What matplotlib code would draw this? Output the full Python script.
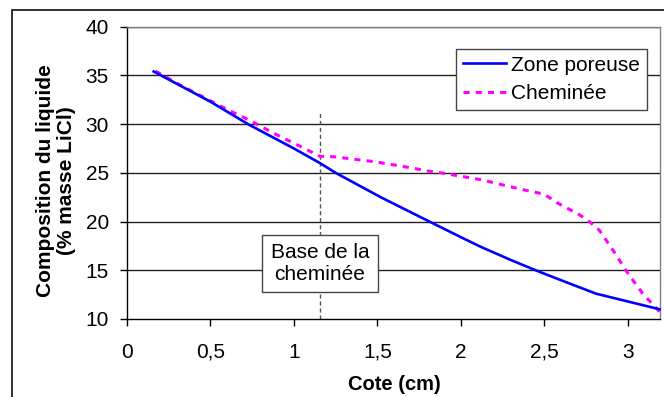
import matplotlib
matplotlib.use("Agg")
import matplotlib.pyplot as plt
from matplotlib.patches import Rectangle

plt.rcParams['font.family'] = ['Liberation Sans', 'DejaVu Sans']

# Data
x_poreuse = [0.16, 0.5, 0.73, 1.0, 1.156, 1.25, 1.52, 1.80, 2.0, 2.12, 2.3, 2.47, 2.65, 2.81, 3.0, 3.19]
y_poreuse = [35.4, 32.3, 29.95, 27.5, 26.0, 25.0, 22.5, 20.1, 18.4, 17.4, 16.05, 14.85, 13.65, 12.6, 11.8, 11.0]

x_chem = [0.17, 0.32, 0.46, 0.60, 0.74, 0.88, 1.04, 1.156, 1.24, 1.48, 1.64, 1.80, 1.88,
          2.12, 2.34, 2.50, 2.58, 2.71, 2.77, 2.83, 2.91, 3.00, 3.09, 3.19]
y_chem = [35.45, 34.0, 32.75, 31.5, 30.35, 29.05, 27.7, 26.7, 26.65, 26.15, 25.7, 25.2, 25.0,
          24.3, 23.4, 22.8, 21.9, 20.7, 20.0, 19.1, 17.1, 14.7, 12.6, 10.75]

base_x = 1.156
base_top = 31.25

xticks = [0, 0.5, 1, 1.5, 2, 2.5, 3]
xticklabels = ['0', '0,5', '1', '1,5', '2', '2,5', '3']
yticks = [10, 15, 20, 25, 30, 35, 40]

W, H = 664, 397
fig = plt.figure(figsize=(W / 100, H / 100), dpi=100)
ax = fig.add_axes([127 / W, 1 - 319 / H, (660 - 127) / W, (319 - 26.7) / H])

ax.set_xlim(0, 3.193)
ax.set_ylim(10, 40)

for yv in yticks[1:]:
    ax.axhline(yv, color='#222222', lw=1.0, zorder=1)

ax.plot([base_x, base_x], [10, base_top], color='#555555', lw=1.0,
        linestyle=(0, (3, 2)), zorder=2)

ax.plot(x_poreuse, y_poreuse, color='#0000FF', lw=1.9, label='Zone poreuse',
        zorder=4, clip_on=False)
ax.plot(x_chem, y_chem, color='#FF00FF', lw=2.2, linestyle=(0, (2, 2)),
        label='Cheminée', zorder=3, clip_on=False)

ax.set_xticks(xticks)
ax.set_xticklabels(xticklabels)
ax.set_yticks(yticks)
ax.tick_params(axis='both', labelsize=15, direction='out', length=5, width=1, color='black')
ax.tick_params(axis='y', pad=8)
ax.tick_params(axis='x', pad=12)

for s in ['left', 'bottom']:
    ax.spines[s].set_color('black')
    ax.spines[s].set_linewidth(1.0)
for s in ['top', 'right']:
    ax.spines[s].set_color('#808080')
    ax.spines[s].set_linewidth(1.0)

ax.text(base_x, 15.7, 'Base de la\ncheminée', ha='center', va='center', fontsize=15,
        linespacing=1.15, zorder=5,
        bbox=dict(boxstyle='square,pad=0.4', fc='white', ec='#444444', lw=1.0))

leg = ax.legend(loc='upper right', bbox_to_anchor=((647 - 127) / (660 - 127), 1 - (49 - 26.7) / (319 - 26.7)),
                fontsize=15, frameon=True, fancybox=False, framealpha=1,
                edgecolor='#444444', handlelength=2.1, handletextpad=0.25,
                labelspacing=0.45, borderpad=0.32, borderaxespad=0)
leg.get_frame().set_linewidth(1.0)
leg.set_zorder(6)

fig.text(394 / W, 1 - 385 / H, 'Cote (cm)', ha='center', va='center',
         fontsize=14.5, fontweight='bold')
fig.text(56 / W, 1 - 181 / H, 'Composition du liquide\n(% masse LiCl)', ha='center',
         va='center', rotation=90, fontsize=15, fontweight='bold', linespacing=1.1)

fig.add_artist(Rectangle((12 / W, -0.2), 2, (H - 10) / H + 0.2, transform=fig.transFigure,
                         fill=False, ec='#222222', lw=1.3))

fig.savefig('out.png', dpi=100)
